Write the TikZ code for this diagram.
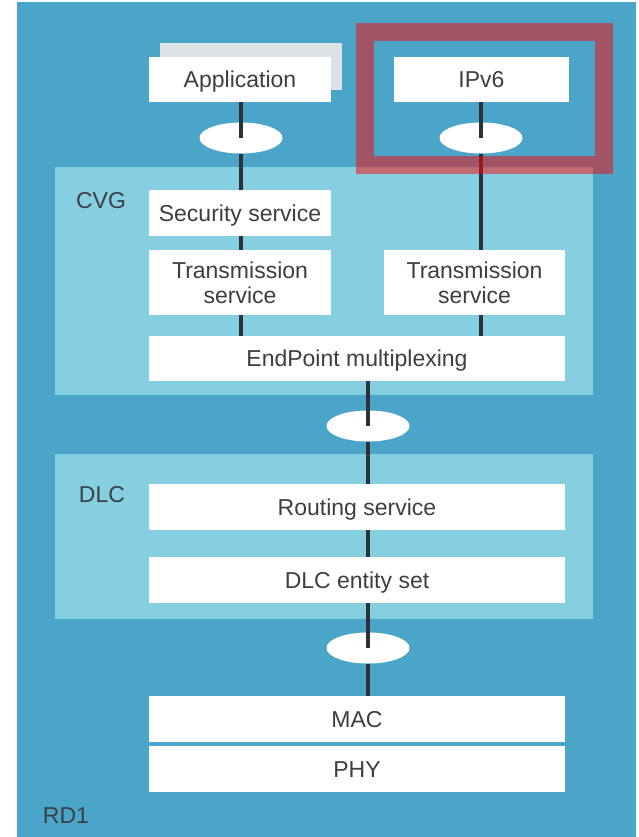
\documentclass[tikz,border=0pt]{standalone}
\usepackage{fontspec}
\setmainfont{Liberation Sans}
\usetikzlibrary{shapes.geometric}
\definecolor{rdblue}{RGB}{75,165,201}
\definecolor{cvgblue}{RGB}{133,207,224}
\definecolor{shadowgrey}{RGB}{220,226,229}
\definecolor{txtgrey}{RGB}{58,63,69}
\definecolor{linegrey}{RGB}{44,51,56}
\definecolor{hlred}{RGB}{250,5,5}
\begin{document}
\begin{tikzpicture}[x=1pt,y=-1pt,
  layerbox/.style={fill=white, draw=none, inner sep=0pt, minimum height=46pt, text=txtgrey, font=\fontsize{23}{25}\selectfont},
  oneline/.style={text height=16.5pt, text depth=0pt},
  sap/.style={ellipse, fill=white, draw=none, minimum width=83pt, minimum height=31pt, inner sep=0pt},
  link/.style={draw=linegrey, line width=3.6pt},
  grouplabel/.style={text=txtgrey, font=\fontsize{23}{25}\selectfont, inner sep=0pt, text height=16.5pt, text depth=0pt},
  hlframe/.style={draw=hlred, draw opacity=0.5, line width=18pt}
]
\useasboundingbox (0,0) rectangle (639,837);
\fill[rdblue] (17,2) rectangle (636,837);
\fill[cvgblue] (55,167) rectangle (593,395);
\fill[cvgblue] (55,454) rectangle (593,619);

\node[layerbox, oneline, fill=shadowgrey, minimum width=182pt, minimum height=47pt] (appshadow) at (251,66.5) {};
\node[layerbox, oneline, minimum width=182pt, minimum height=45pt] (app) at (240,79.5) {Application};
\node[layerbox, oneline, minimum width=175pt, minimum height=45pt] (ipv6) at (481.5,79.5) {IPv6};
\node[sap] (e1) at (241,138) {};
\node[sap] (e2) at (481,138) {};
\node[layerbox, oneline, minimum width=182pt] (sec) at (240,213) {Security service};
\node[layerbox, align=center, minimum width=182pt, minimum height=65pt] (tl) at (240,282.5) {Transmission\\service};
\node[layerbox, align=center, minimum width=181pt, minimum height=65pt] (tr) at (474.5,282.5) {Transmission\\service};
\node[layerbox, oneline, minimum width=416pt, minimum height=45pt] (ep) at (357,358.5) {EndPoint multiplexing};
\node[sap] (e3) at (368,426) {};
\node[layerbox, oneline, minimum width=416pt] (rs) at (357,507) {Routing service};
\node[layerbox, oneline, minimum width=416pt] (des) at (357,580) {DLC entity set};
\node[sap] (e4) at (368,648) {};
\node[layerbox, oneline, minimum width=416pt] (mac) at (357,719) {MAC};
\node[layerbox, oneline, minimum width=416pt] (phy) at (357,769) {PHY};

\node[grouplabel] (cvg) at (101,200) {CVG};
\node[grouplabel] (dlc) at (102,494) {DLC};
\node[grouplabel] (rd) at (66,815) {RD1};

\draw[link] (e1.center |- app.south) -- (e1.center);
\draw[link] (e1.south) -- (e1.south |- sec.north);
\draw[link] (e1.center |- sec.south) -- (e1.center |- tl.north);
\draw[link] (e1.center |- tl.south) -- (e1.center |- ep.north);
\draw[link] (e2.center |- ipv6.south) -- (e2.center);
\draw[link] (e2.south) -- (e2.south |- tr.north);
\draw[link] (e2.center |- tr.south) -- (e2.center |- ep.north);
\draw[link] (e3.center |- ep.south) -- (e3.center);
\draw[link] (e3.south) -- (e3.south |- rs.north);
\draw[link] (e3.center |- rs.south) -- (e3.center |- des.north);
\draw[link] (e4.center |- des.south) -- (e4.center);
\draw[link] (e4.south) -- (e4.south |- mac.north);

\draw[hlframe] (365,32) rectangle (604,165);
\end{tikzpicture}
\end{document}
